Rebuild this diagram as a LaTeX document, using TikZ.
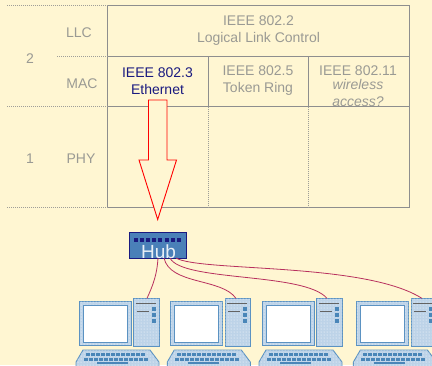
\documentclass[tikz,border=0pt]{standalone}
\usepackage{fontspec}
\setmainfont{Liberation Sans}
\usetikzlibrary{patterns}
\definecolor{bgc}{HTML}{FFF6D2}
\definecolor{gridc}{HTML}{8E8E8E}
\definecolor{txtc}{HTML}{9A9A94}
\definecolor{navyc}{HTML}{1A1A80}
\definecolor{pcblue}{HTML}{5B92C2}
\definecolor{pcfill}{HTML}{BDD3E8}
\definecolor{keyc}{HTML}{4A86B8}
\definecolor{hubc}{HTML}{4A80B8}
\definecolor{cablec}{HTML}{B8305E}
\tikzset{
  x=1pt,y=-1pt,
  gridline/.style={draw=gridc,line width=0.9pt},
  dotline/.style={draw=gridc!85!bgc,line width=0.8pt,dash pattern=on 0.9pt off 1.1pt},
  lbl/.style={text=txtc,font=\fontsize{14}{17}\selectfont,inner sep=0pt,align=center},
  act/.style={text=navyc,font=\fontsize{14}{17}\selectfont,inner sep=0pt,align=center},
  pcpart/.style={draw=pcblue,line width=0.9pt,fill=pcfill},
  dots/.style={pattern=dots,pattern color=white},
  screen/.style={draw=pcblue,line width=0.9pt,fill=white},
  cable/.style={draw=cablec,line width=0.8pt},
  arrowshape/.style={draw=red,line width=0.9pt,fill=bgc},
}
\newcommand{\pcunit}[2]{%
  \begin{scope}[xshift=#1pt]
    \path[pcpart] (79.5,301) rectangle (131,345.5);
    \path[dots] (79.5,301) rectangle (131,345.5);
    \path[screen] (83.5,305) rectangle (127,342);
    \node[pcpart,inner sep=0pt,anchor=north west,
      minimum width=25.8pt,minimum height=47.2pt] (#2) at (133.3,298.4) {};
    \path[dots] (133.3,298.4) rectangle (159,345.6);
    \draw[gridc!70!black,line width=1pt] (136,303) -- (156,303);
    \draw[gridc!70!black,line width=1pt] (136.5,311) -- (149,311);
    \foreach \yy in {307,313,319}{\fill[keyc] (152,\yy) rectangle (156,\yy+4);}
    \path[pcpart] (83,350) -- (150,350) -- (159,362) -- (159,370) -- (76,370) -- (76,362) -- cycle;
    \path[dots] (83,350) -- (150,350) -- (159,362) -- (159,370) -- (76,370) -- (76,362) -- cycle;
    \foreach \xx in {86,91,96,101,106,111,116,121,126,131,136,141}{\fill[keyc] (\xx,353) rectangle (\xx+3.5,356);}
    \foreach \xx in {84,89,94,99,104,109,114,119,124,129,134,139,144}{\fill[keyc] (\xx,357.5) rectangle (\xx+3.5,360.5);}
    \fill[keyc] (97,362) rectangle (128,364);
  \end{scope}}
\begin{document}
\begin{tikzpicture}
\useasboundingbox (0,0) rectangle (432,365);
\clip (0,0) rectangle (432,365);
\fill[bgc] (0,0) rectangle (432,365);
% table
\path[gridline] (107.5,5.5) rectangle (409.5,207);
\path[gridline] (107.5,56) -- (409.5,56);
\path[gridline] (107.5,106.5) -- (409.5,106.5);
\path[gridline] (208,56) -- (208,106.5);
\path[gridline] (308.5,56) -- (308.5,106.5);
\path[dotline] (208,106.5) -- (208,207);
\path[dotline] (308.5,106.5) -- (308.5,207);
\path[dotline] (7,5.5) -- (107.5,5.5);
\path[dotline] (57,56) -- (107.5,56);
\path[dotline] (7,106.5) -- (107.5,106.5);
\path[dotline] (7,207) -- (107.5,207);
% labels
\node[lbl] (two) at (30,59) {2};
\node[lbl] (one) at (30,159) {1};
\node[lbl] (llc) at (79,33) {LLC};
\node[lbl] (mac) at (82,84) {MAC};
\node[lbl] (phy) at (81,159) {PHY};
\node[lbl] (ieeetwo) at (258.5,31) {IEEE 802.2\\Logical Link Control};
\node[act] (ieeethree) at (157.5,81) {IEEE 802.3\\Ethernet};
\node[lbl] (ieeefive) at (258,81) {IEEE 802.5\\Token Ring};
\node[lbl] (ieeeeleven) at (358,71) {IEEE 802.11};
\node[lbl,font=\fontsize{14}{17}\selectfont\itshape] (wireless) at (358,92.5) {wireless\\access?};
% arrow
\path[arrowshape] (148.5,100) -- (167,100) -- (167,160) -- (176.5,160) -- (157.7,219.5) -- (139,160) -- (148.5,160) -- cycle;
% computers
\pcunit{0}{towera}
\pcunit{91.3}{towerb}
\pcunit{183}{towerc}
\pcunit{277.4}{towerd}
% hub
\node[draw=navyc,line width=0.9pt,fill=hubc,anchor=north west,inner sep=0pt,minimum width=57pt,minimum height=26pt] (hub) at (129.3,231.7) {};
\foreach \k in {0,...,7}{\fill[navyc] (134+6.1*\k,238) rectangle (138+6.1*\k,242);}
\node[text=white,opacity=0.88,inner sep=0pt,font=\fontsize{19}{19}\selectfont] (hublabel) at (158.5,251.5) {Hub};
% cables
\coordinate (ha) at (158,258);
\coordinate (hb) at (164,258);
\coordinate (hc) at (170,258);
\coordinate (hd) at (176,258);
\coordinate (ta) at (147,298.4);
\coordinate (tb) at (236,298.4);
\coordinate (tc) at (327,298.4);
\coordinate (td) at (422,298.4);
\path[cable] (ha) .. controls (157,275) and (153,285) .. (ta);
\path[cable] (hb) .. controls (170,285) and (222,278) .. (tb);
\path[cable] (hc) .. controls (182,282) and (305,272) .. (tc);
\path[cable] (hd) .. controls (200,272) and (365,262) .. (td);
\end{tikzpicture}
\end{document}
